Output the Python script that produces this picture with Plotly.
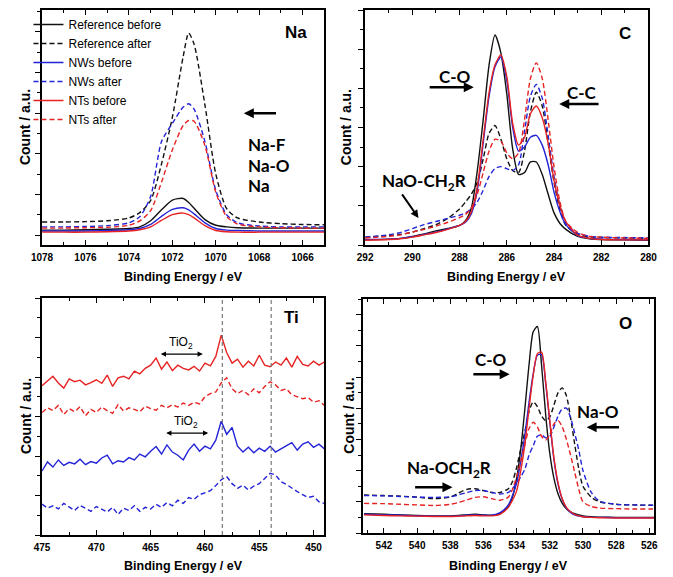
import plotly.graph_objects as go

W, H = 673, 577

# ---------------- Na 1s ----------------
na_be = [1078, 1077, 1076, 1075, 1074, 1073.5, 1073, 1072.5, 1072, 1071.5,
         1071.25, 1071, 1070.5, 1070, 1069.5, 1069, 1068, 1067, 1066, 1065]
na_ref_before = [0.12, 0.12, 0.13, 0.14, 0.16, 0.20, 0.35, 0.62, 0.86, 0.90,
                 0.80, 0.66, 0.38, 0.24, 0.20, 0.18, 0.17, 0.17, 0.17, 0.17]
na_ref_after = [0.32, 0.32, 0.33, 0.35, 0.42, 0.55, 0.85, 1.75, 2.90, 4.40,
                4.97, 4.70, 3.20, 1.50, 0.65, 0.42, 0.32, 0.28, 0.26, 0.25]
na_nws_before = [0.10, 0.10, 0.10, 0.11, 0.13, 0.16, 0.26, 0.46, 0.63, 0.67,
                 0.62, 0.52, 0.30, 0.16, 0.12, 0.11, 0.10, 0.10, 0.10, 0.10]
na_nws_after = [0.20, 0.20, 0.21, 0.23, 0.30, 0.45, 0.95, 2.30, 2.75, 3.15,
                3.23, 3.10, 2.30, 1.10, 0.50, 0.30, 0.22, 0.20, 0.20, 0.20]
na_nts_before = [0.07, 0.07, 0.07, 0.08, 0.10, 0.13, 0.20, 0.36, 0.50, 0.54,
                 0.50, 0.42, 0.23, 0.11, 0.08, 0.07, 0.07, 0.07, 0.07, 0.07]
na_nts_after = [0.17, 0.17, 0.18, 0.19, 0.24, 0.35, 0.60, 1.30, 2.10, 2.70,
                2.82, 2.80, 2.20, 1.05, 0.45, 0.27, 0.20, 0.18, 0.17, 0.17]

# ---------------- C 1s ----------------
c_be = [292, 291, 290.5, 290, 289.5, 289, 288.5, 288, 287.75, 287.5, 287.25,
        287, 286.75, 286.5, 286.25, 286, 285.75, 285.5, 285.25, 285, 284.75,
        284.5, 284.25, 284, 283.75, 283.5, 283, 282.5, 282, 281, 280]
c_ref_before = [0.13, 0.15, 0.17, 0.22, 0.28, 0.36, 0.42, 0.50, 0.62, 0.95, 1.90,
                3.20, 4.60, 5.36, 4.90, 3.85, 2.45, 1.80, 1.85, 2.12, 2.12,
                1.80, 1.30, 0.82, 0.55, 0.40, 0.22, 0.16, 0.14, 0.13, 0.12]
c_ref_after = [0.20, 0.24, 0.27, 0.33, 0.42, 0.52, 0.68, 0.92, 1.10, 1.30, 1.60,
               2.20, 2.85, 3.05, 2.70, 2.20, 1.90, 1.85, 2.40, 3.40, 3.90,
               3.55, 2.60, 1.60, 0.90, 0.50, 0.28, 0.21, 0.19, 0.18, 0.17]
c_nws_before = [0.14, 0.15, 0.17, 0.21, 0.27, 0.33, 0.41, 0.50, 0.58, 0.80, 1.40,
                2.60, 3.80, 4.55, 4.80, 4.20, 3.00, 2.40, 2.50, 2.75, 2.80,
                2.55, 2.05, 1.35, 0.85, 0.52, 0.24, 0.17, 0.15, 0.14, 0.13]
c_nws_after = [0.20, 0.26, 0.32, 0.42, 0.52, 0.60, 0.68, 0.76, 0.82, 0.92, 1.10,
               1.40, 1.75, 1.95, 2.00, 1.95, 1.90, 2.05, 2.90, 3.80, 4.10,
               3.75, 2.80, 1.75, 1.00, 0.55, 0.30, 0.22, 0.20, 0.19, 0.18]
c_nts_before = [0.12, 0.14, 0.16, 0.20, 0.26, 0.32, 0.40, 0.50, 0.60, 0.85, 1.50,
                2.70, 3.90, 4.60, 4.85, 4.30, 3.10, 2.55, 2.75, 3.35, 3.55,
                3.25, 2.60, 1.65, 1.00, 0.60, 0.25, 0.17, 0.14, 0.13, 0.13]
c_nts_after = [0.18, 0.22, 0.26, 0.33, 0.40, 0.48, 0.58, 0.70, 0.78, 0.95, 1.30,
               1.85, 2.40, 2.70, 2.65, 2.35, 2.20, 2.35, 3.20, 4.25, 4.65,
               4.25, 3.20, 2.00, 1.10, 0.60, 0.32, 0.22, 0.20, 0.18, 0.17]

# ---------------- Ti 2p (0.5 eV steps, 475 -> 448.5) ----------------
ti_be = [475 - 0.5 * i for i in range(54)]
ti_nts_before = [3.78, 3.90, 4.02, 3.85, 3.72, 3.95, 3.88, 3.92, 3.80, 3.86,
                 3.93, 3.84, 4.05, 3.76, 3.98, 4.02, 3.95, 4.15, 4.08, 4.22,
                 4.30, 4.48, 4.20, 4.38, 4.16, 4.30, 4.22, 4.18, 4.27, 4.15,
                 4.35, 4.28, 4.52, 5.06, 4.62, 4.35, 4.45, 4.25, 4.40, 4.28,
                 4.55, 4.30, 4.26, 4.38, 4.30, 4.48, 4.25, 4.52, 4.32, 4.28,
                 4.40, 4.30, 4.38, 4.33]
ti_nts_after = [3.10, 3.22, 3.15, 3.28, 3.05, 3.20, 3.12, 3.25, 3.02, 3.18,
                3.10, 3.24, 3.15, 3.08, 3.30, 3.14, 3.22, 3.18, 3.12, 3.26,
                3.20, 3.16, 3.28, 3.22, 3.30, 3.24, 3.34, 3.28, 3.36, 3.32,
                3.50, 3.58, 3.62, 3.85, 3.98, 3.70, 3.58, 3.66, 3.55, 3.70,
                3.60, 3.76, 3.88, 3.80, 3.66, 3.70, 3.55, 3.50, 3.45, 3.48,
                3.36, 3.40, 3.28, 3.35]
ti_nws_before = [1.62, 1.85, 1.72, 1.90, 1.76, 1.84, 1.80, 1.92, 1.78, 1.86,
                 1.82, 1.95, 2.02, 1.80, 1.88, 1.85, 1.96, 1.90, 2.05, 1.98,
                 2.12, 2.24, 2.05, 2.28, 2.10, 2.02, 1.90, 2.15, 2.30, 2.12,
                 2.25, 2.18, 2.40, 2.88, 2.55, 2.72, 2.25, 2.10, 2.22, 2.08,
                 2.20, 2.12, 2.25, 2.10, 2.18, 2.26, 2.34, 2.15, 2.30, 2.36,
                 2.22, 2.30, 2.18, 2.28]
ti_nws_after = [0.78, 0.68, 0.74, 0.66, 0.80, 0.72, 0.62, 0.75, 0.68, 0.60,
                0.72, 0.66, 0.58, 0.70, 0.52, 0.68, 0.62, 0.74, 0.60, 0.70,
                0.66, 0.78, 0.70, 0.82, 0.74, 0.88, 0.80, 0.95, 0.90, 1.02,
                1.08, 1.12, 1.25, 1.40, 1.48, 1.30, 1.18, 1.26, 1.14, 1.24,
                1.30, 1.42, 1.56, 1.52, 1.35, 1.28, 1.18, 1.10, 1.02, 0.95,
                0.98, 0.84, 0.80, 0.74]
ti_ref_lines = [458.4, 453.9]

# ---------------- O 1s ----------------
o_be = [543.2, 542, 541, 540, 539, 538, 537.5, 537, 536.5, 536, 535.5, 535,
        534.5, 534.25, 534, 533.75, 533.5, 533.25, 533, 532.75, 532.5, 532.25,
        532, 531.75, 531.5, 531.25, 531, 530.75, 530.5, 530.25, 530, 529.5,
        529, 528, 527, 526, 525.7]
o_ref_before = [0.62, 0.60, 0.58, 0.56, 0.55, 0.55, 0.56, 0.58, 0.60, 0.58, 0.57, 0.62,
                0.85, 1.15, 1.75, 2.70, 4.00, 5.40, 6.45, 6.62, 5.40, 3.80,
                2.55, 1.75, 1.25, 0.95, 0.78, 0.68, 0.62, 0.58, 0.55, 0.52,
                0.51, 0.50, 0.50, 0.50, 0.50]
o_ref_after = [1.22, 1.20, 1.18, 1.15, 1.10, 1.15, 1.28, 1.40, 1.42, 1.36, 1.30, 1.30,
               1.42, 1.65, 2.10, 2.70, 3.25, 3.90, 4.20, 4.05, 3.75, 3.60,
               3.72, 4.10, 4.50, 4.65, 4.40, 3.70, 2.85, 2.05, 1.50, 1.15,
               1.00, 0.92, 0.90, 0.89, 0.89]
o_nws_before = [0.60, 0.58, 0.57, 0.55, 0.54, 0.54, 0.55, 0.57, 0.58, 0.57, 0.57, 0.65,
                0.90, 1.20, 1.60, 2.30, 3.15, 4.20, 5.10, 5.70, 5.72, 4.80,
                3.55, 2.35, 1.55, 1.08, 0.80, 0.66, 0.58, 0.54, 0.52, 0.50,
                0.50, 0.49, 0.49, 0.49, 0.49]
o_nws_after = [1.20, 1.19, 1.17, 1.15, 1.14, 1.16, 1.22, 1.30, 1.36, 1.36, 1.30, 1.25,
               1.30, 1.42, 1.60, 1.80, 2.05, 2.50, 2.80, 3.10, 3.15, 3.05,
               3.10, 3.40, 3.75, 3.98, 4.00, 3.70, 3.20, 2.65, 2.00, 1.30,
               1.02, 0.92, 0.90, 0.89, 0.89]
o_nts_before = [0.58, 0.56, 0.55, 0.54, 0.53, 0.53, 0.54, 0.55, 0.56, 0.55, 0.55, 0.60,
                0.82, 1.05, 1.35, 2.00, 2.85, 4.00, 5.05, 5.75, 5.80, 4.85,
                3.60, 2.40, 1.60, 1.10, 0.82, 0.68, 0.60, 0.55, 0.52, 0.50,
                0.49, 0.48, 0.48, 0.48, 0.48]
o_nts_after = [0.95, 0.94, 0.92, 0.90, 0.88, 0.92, 0.98, 1.06, 1.14, 1.16, 1.10, 1.05,
               1.15, 1.40, 1.80, 2.30, 2.85, 3.35, 3.55, 3.40, 3.10, 2.98,
               3.15, 3.50, 3.60, 3.40, 3.00, 2.50, 1.95, 1.40, 1.00, 0.85,
               0.80, 0.78, 0.77, 0.77, 0.77]

series_names = ["Reference before", "Reference after", "NWs before",
                "NWs after", "NTs before", "NTs after"]
BLACK, BLUE, RED = "#111111", "#2323d8", "#e62222"
styles = [(BLACK, "solid"), (BLACK, "5px,3px"), (BLUE, "solid"),
          (BLUE, "5px,3px"), (RED, "solid"), (RED, "5px,3px")]

fig = go.Figure()

panels = [
    ("x", "y", na_be, [na_ref_before, na_ref_after, na_nws_before,
                       na_nws_after, na_nts_before, na_nts_after]),
    ("x2", "y2", c_be, [c_ref_before, c_ref_after, c_nws_before,
                        c_nws_after, c_nts_before, c_nts_after]),
    ("x4", "y4", o_be, [o_ref_before, o_ref_after, o_nws_before,
                        o_nws_after, o_nts_before, o_nts_after]),
]
for xa, ya, be, curves in panels:
    for name, (col, dash), vals in zip(series_names, styles, curves):
        fig.add_trace(go.Scatter(
            x=be, y=vals, name=name, mode="lines", xaxis=xa, yaxis=ya,
            line=dict(color=col, dash=dash, width=1.4, shape="spline", smoothing=0.7),
            showlegend=(xa == "x"),
        ))

ti_curves = [("NTs before", RED, "solid", ti_nts_before),
             ("NTs after", RED, "5px,3px", ti_nts_after),
             ("NWs before", BLUE, "solid", ti_nws_before),
             ("NWs after", BLUE, "5px,3px", ti_nws_after)]
for name, col, dash, vals in ti_curves:
    fig.add_trace(go.Scatter(
        x=ti_be, y=vals, name=name, mode="lines", xaxis="x3", yaxis="y3",
        line=dict(color=col, dash=dash, width=1.4), showlegend=False,
    ))

for e in ti_ref_lines:
    fig.add_shape(type="line", x0=e, x1=e, y0=0, y1=1, xref="x3", yref="y3 domain",
                  line=dict(color="#777777", width=1.2, dash="4px,3px"))


def dom_x(a, b):
    return [a / W, b / W]


def dom_y(top, bottom):
    return [1 - bottom / H, 1 - top / H]


tickfont = dict(family="Liberation Sans", size=10, color="black", weight="bold")


def xaxis(domain, anchor, rng, dtick, minor):
    return dict(domain=domain, anchor=anchor, range=rng, dtick=dtick,
                showline=True, mirror="ticks", linecolor="black", linewidth=1.5,
                ticks="inside", ticklen=5, tickwidth=1.2, tickcolor="black",
                minor=dict(dtick=minor, ticklen=3, tickwidth=1, tickcolor="black", ticks="inside"),
                showgrid=False, zeroline=False, tickfont=tickfont, ticklabelstandoff=2)


def yaxis(domain, anchor, rng, dtick):
    # left side: ticks pointing out; the frame line is mirrored on the right
    return dict(domain=domain, anchor=anchor, range=rng, dtick=dtick,
                showline=True, mirror=True, linecolor="black", linewidth=1.5,
                ticks="outside", ticklen=5, tickwidth=1.2, tickcolor="black",
                minor=dict(dtick=dtick / 2, ticklen=3, tickwidth=1, tickcolor="black", ticks="outside"),
                showgrid=False, zeroline=False, showticklabels=False)


def yaxis_right(over, anchor, rng, dtick):
    # right side copy with ticks pointing into the frame
    return dict(overlaying=over, side="right", anchor=anchor, range=rng, dtick=dtick,
                showline=False, ticks="inside", ticklen=5, tickwidth=1.2, tickcolor="black",
                minor=dict(dtick=dtick / 2, ticklen=3, tickwidth=1, tickcolor="black", ticks="inside"),
                showgrid=False, zeroline=False, showticklabels=False)


y_ranges = {"y": [-0.246, 5.54], "y2": [0, 6], "y3": [0, 6], "y4": [0, 7.5]}

fig.update_layout(
    width=W, height=H, margin=dict(l=0, r=0, t=0, b=0),
    paper_bgcolor="white", plot_bgcolor="white",
    xaxis=xaxis(dom_x(32, 323), "y", [1078, 1065], 2, 1),
    yaxis=yaxis(dom_y(10, 245), "x", y_ranges["y"], 1),
    xaxis2=xaxis(dom_x(365, 657), "y2", [292, 280], 2, 1),
    yaxis2=yaxis(dom_y(10, 245), "x2", y_ranges["y2"], 1),
    xaxis3=xaxis(dom_x(32, 323), "y3", [475, 449], 5, 2.5),
    yaxis3=yaxis(dom_y(298, 535), "x3", y_ranges["y3"], 1),
    xaxis4=xaxis(dom_x(363, 663), "y4", [543.25, 525.7], 2, 1),
    yaxis4=yaxis(dom_y(299, 533), "x4", y_ranges["y4"], 1),
    yaxis5=yaxis_right("y", "x", y_ranges["y"], 1),
    yaxis6=yaxis_right("y2", "x2", y_ranges["y2"], 1),
    yaxis7=yaxis_right("y3", "x3", y_ranges["y3"], 1),
    yaxis8=yaxis_right("y4", "x4", y_ranges["y4"], 1),
    legend=dict(x=18 / W, y=1 - 10 / H, xanchor="left", yanchor="top",
                bgcolor="rgba(0,0,0,0)", font=dict(family="Liberation Sans", size=12, color="black"),
                tracegroupgap=0),
)

# axis titles
ann = []
for xa, ya, ypx, px in [("x", "y", 277, 15), ("x2", "y2", 277, 346),
                        ("x3", "y3", 566, 15), ("x4", "y4", 566, 348)]:
    ann.append(dict(text="<b>Binding Energy / eV</b>", xref=xa + " domain", x=0.5,
                    yref="paper", y=1 - ypx / H, xanchor="center", yanchor="middle",
                    showarrow=False, font=dict(family="Liberation Sans", size=12.5, color="black")))
    ann.append(dict(text="<b>Count / a.u.</b>", xref="paper", x=px / W,
                    yref=ya + " domain", y=0.5, xanchor="center", yanchor="middle",
                    textangle=-90, showarrow=False,
                    font=dict(family="Liberation Sans", size=14, color="black")))

big = dict(family="Lato", size=17, color="black")
elem = dict(family="Liberation Sans", size=17, color="black")


def label(xa, ya, x, y, text, font, **kw):
    ann.append(dict(text=text, xref=xa, yref=ya, x=x, y=y, showarrow=False, font=font, **kw))


def arrow(xa, ya, x0, x1, y0, y1, width=2.5, both=False):
    d = dict(text="", xref=xa, yref=ya, x=x1, y=y1, ax=x0, ay=y0, axref=xa, ayref=ya,
             showarrow=True, arrowhead=2, arrowsize=0.8, arrowwidth=width, arrowcolor="black")
    if both:
        d.update(arrowside="end+start", startarrowhead=2, startarrowsize=0.8)
    ann.append(d)


# Na panel
label("x", "y", 1066.3, 4.98, "<b>Na</b>", elem)
arrow("x", "y", 1067.16, 1068.71, 3.0, 3.0)
for txt, yy in [("Na-F", 2.22), ("Na-O", 1.72), ("Na", 1.23)]:
    label("x", "y", 1068.6, yy, "<b>%s</b>" % txt, big, xanchor="left")

# C panel
label("x2", "y2", 280.98, 5.41, "<b>C</b>", elem)
label("x2", "y2", 288.2, 4.3, "<b>C-O</b>", big)
arrow("x2", "y2", 289.33, 287.4, 4.03, 4.03)
label("x2", "y2", 282.83, 3.9, "<b>C-C</b>", big)
arrow("x2", "y2", 282.05, 283.78, 3.6, 3.6)
label("x2", "y2", 289.5, 1.62, "<b>NaO-CH<sub>2</sub>R</b>", big)
arrow("x2", "y2", 290.48, 289.74, 1.33, 0.69, width=2)

# Ti panel
label("x3", "y3", 452.0, 5.5, "<b>Ti</b>", elem)
arrow("x3", "y3", 464.2, 460.2, 4.58, 4.58, width=1.3, both=True)
label("x3", "y3", 462.2, 4.62, "TiO<sub>2</sub>", dict(family="Liberation Sans", size=12, color="black"),
      yanchor="bottom")
arrow("x3", "y3", 463.7, 459.7, 2.58, 2.58, width=1.3, both=True)
label("x3", "y3", 461.7, 2.62, "TiO<sub>2</sub>", dict(family="Liberation Sans", size=12, color="black"),
      yanchor="bottom")

# O panel
label("x4", "y4", 527.46, 6.73, "<b>O</b>", elem)
label("x4", "y4", 535.53, 5.55, "<b>C-O</b>", big)
arrow("x4", "y4", 536.7, 534.42, 5.09, 5.09)
label("x4", "y4", 529.1, 3.9, "<b>Na-O</b>", big)
arrow("x4", "y4", 527.74, 529.78, 3.39, 3.39)
label("x4", "y4", 538.06, 2.05, "<b>Na-OCH<sub>2</sub>R</b>", big)
arrow("x4", "y4", 540.21, 537.87, 1.47, 1.47)

fig.update_layout(annotations=ann)

# the page body has a default 8px margin; drop it so the figure sits at the window corner
fig.write_html("out.html", config={"displayModeBar": False},
               post_script="document.body.style.margin='0px';")
